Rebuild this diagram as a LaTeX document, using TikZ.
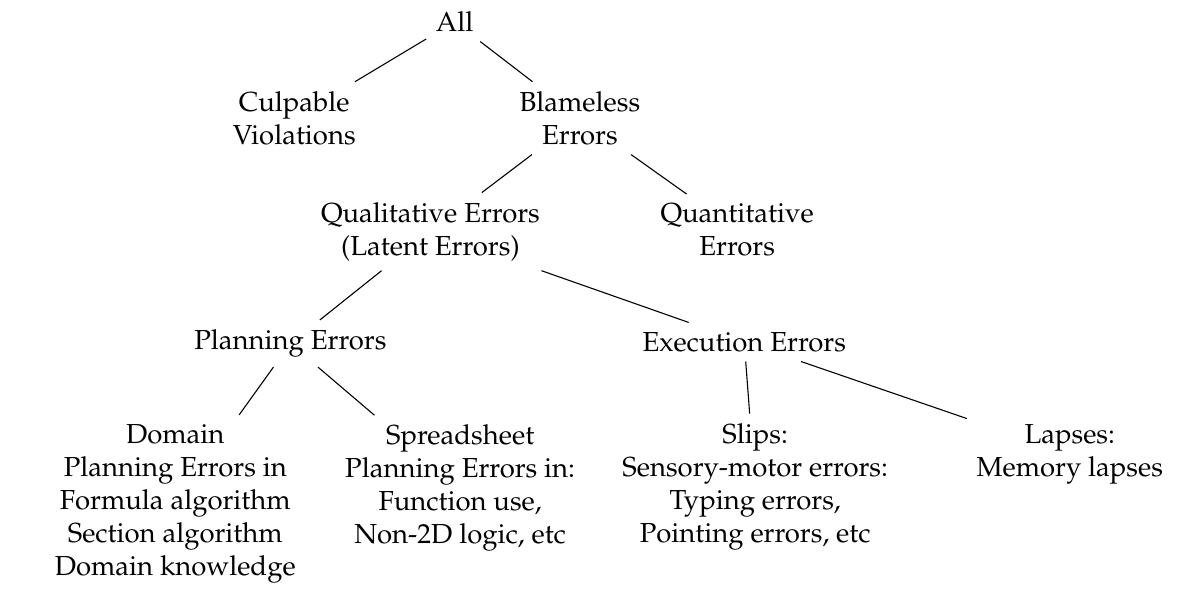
\documentclass[tikz,border=0pt]{standalone}
\usepackage[T1]{fontenc}
\usepackage{mathpazo}
\begin{document}
\begin{tikzpicture}[every node/.style={align=center}]
        \useasboundingbox (0,0) rectangle (15.04,-7.57);
        \node (all) at (5.81,-0.28) {All};
        \node (culp) at (3.76,-1.51) {Culpable\\Violations};
        \node (blame) at (7.41,-1.51) {Blameless\\Errors};
        \node (qual) at (5.50,-2.96) {Qualitative Errors\\(Latent Errors)};
        \node (quant) at (9.42,-2.94) {Quantitative\\Errors};
        \node (plan) at (3.71,-4.39) {Planning Errors};
        \node (exec) at (9.51,-4.37) {Execution Errors};
        \node (domain) at (2.24,-6.44) {Domain\\Planning Errors in\\Formula algorithm\\Section algorithm\\Domain knowledge};
        \node (sheet) at (5.88,-6.24) {Spreadsheet\\Planning Errors in:\\Function use,\\Non-2D logic, etc};
        \node (slips) at (9.65,-6.22) {Slips:\\Sensory-motor errors:\\Typing errors,\\Pointing errors, etc};
        \node (lapses) at (13.67,-5.80) {Lapses:\\Memory lapses};

        \draw (all) -- (culp);
        \draw (all) -- (blame);
        \draw (blame) -- (qual);
        \draw (blame) -- (quant);
        \draw (qual) -- (plan);
        \draw (qual) -- (exec);
        \draw (plan) -- (domain);
        \draw (plan) -- (sheet);
        \draw (exec) -- (slips);
        \draw (exec) -- (lapses);
    \end{tikzpicture}
\end{document}
